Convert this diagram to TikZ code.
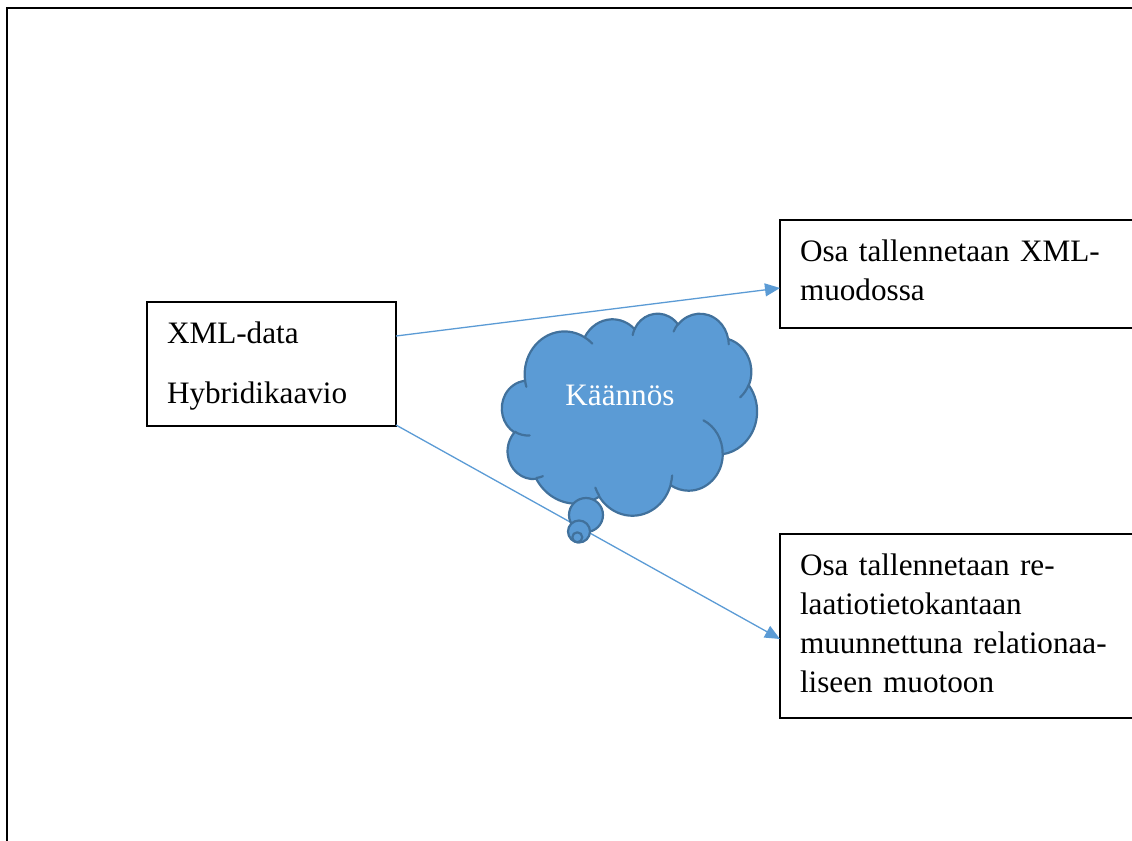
\documentclass[tikz,border=0pt]{standalone}
\usepackage{fontspec}
\setmainfont{Liberation Serif}
\usetikzlibrary{arrows.meta}
\definecolor{linkblue}{HTML}{5B9BD5}
\definecolor{cloudbody}{HTML}{5B9BD5}
\definecolor{cloudedge}{HTML}{41719C}
% elliptic arc from the current point, angles given as visual angles
\newcommand\cloudarc[4]{arc[x radius=#1, y radius=#2, start angle={vp(#3,#1,#2)}, end angle={vp(#3+#4,#1,#2)}]}
\begin{document}
\begin{tikzpicture}[x=0.5pt, y=-0.5pt,
  declare function={vp(\ang,\rx,\ry)=\ang+(atan2(\rx*sin(\ang),\ry*cos(\ang))-\ang)-360*round((atan2(\rx*sin(\ang),\ry*cos(\ang))-\ang)/360);},
  textbox/.style={draw=black, line width=0.7pt, rectangle, anchor=north west,
    outer sep=0pt, inner xsep=10pt, inner ysep=0pt, align=left,
    font=\fontsize{15.6}{19.5}\selectfont},
  conn/.style={draw=linkblue, line width=0.65pt, -{Triangle[length=7.5pt,width=6.5pt]}},
  cloudshape/.style={fill=cloudbody, draw=cloudedge, line width=1.1pt, line join=round},
  cloudcrease/.style={draw=cloudedge, line width=1.1pt, line cap=round},
  frame/.style={draw=black, line width=1pt}]
\useasboundingbox (0,0) rectangle (1132,841);

% page frame
\draw[frame] (1140,7.5) -- (7,7.5) -- (7,850);

% boxes
\node[textbox, text width=104.5pt, minimum height=62pt] (L) at (147,302)
  {\rule{0pt}{20.5pt}XML-data\\[10.5pt]Hybridikaavio\rule[-11.5pt]{0pt}{11.5pt}};
\node[textbox, text width=170pt, minimum height=54pt] (R1) at (780,220)
  {\rule{0pt}{20.5pt}Osa tallennetaan XML-\\muodossa\rule[-14pt]{0pt}{14pt}};
\node[textbox, text width=170pt, minimum height=92pt] (R2) at (780,534)
  {\rule{0pt}{20.5pt}Osa tallennetaan re-\\laatiotietokantaan\\muunnettuna relationaa-\\liseen muotoon\rule[-13pt]{0pt}{13pt}};

% connectors
\draw[conn] ([yshift=14pt]L.east) -- ([yshift=-7pt]R1.west);
\draw[conn] ([yshift=-30.5pt]L.east) -- ([yshift=-6.5pt]R2.west);

% thought cloud
\begin{scope}[shift={(502,313)}, x=0.29514pt, y=-0.2338pt]
  \draw[cloudshape] (39.00,143.70)
    \cloudarc{67.53}{91.90}{-190.48748}{123.78053}
    \cloudarc{53.33}{72.67}{-144.10238}{89.94523}
    \cloudarc{43.65}{59.45}{-145.80792}{99.72302}
    \cloudarc{48.57}{65.95}{-130.98607}{117.24173}
    \cloudarc{53.33}{72.73}{-78.70888}{109.02692}
    \cloudarc{67.75}{92.20}{-46.26725}{130.269}
    \cloudarc{57.85}{78.67}{0.62502}{114.03333}
    \cloudarc{67.52}{92.15}{22.4516}{115.17255}
    \cloudarc{77.20}{105.43}{66.24263}{75.71102}
    \cloudarc{43.60}{59.18}{-274.94208}{146.73557}
    \cloudarc{43.45}{59.45}{-246.8285}{152.51885}
    -- cycle;
  \draw[cloudcrease]
    (46.93,261.77) \cloudarc{43.45}{59.45}{86.742}{26.4295}
    (69.28,348.99) \cloudarc{43.60}{59.18}{73.61047}{11.44747}
    (164.78,390.90) \cloudarc{67.52}{92.15}{137.62415}{14.0811}
    (288.27,347.51) \cloudarc{67.52}{92.15}{6.45327}{15.99835}
    (341.29,229.54) \cloudarc{57.85}{78.67}{-70.29235}{70.91737}
    (417.98,153.54) \cloudarc{53.33}{72.73}{30.31803}{27.7515}
    (383.24,54.26) \cloudarc{48.57}{65.95}{-13.74433}{14.8589}
    (290.78,39.52) \cloudarc{48.57}{65.95}{-149.18145}{18.19537}
    (221.41,47.20) \cloudarc{43.65}{59.45}{-163.49427}{17.68635}
    (140.00,51.92) \cloudarc{67.53}{91.90}{-66.70695}{12.31935}
    (41.27,157.89) \cloudarc{67.53}{91.90}{157.65435}{11.85817};
\end{scope}
\draw[cloudshape] (586,515) circle[radius=17];
\draw[cloudshape] (579,531.5) circle[radius=11];
\draw[cloudshape] (577.3,537.3) circle[radius=5];
\node[anchor=base, inner sep=0pt, text=white, font=\fontsize{15.6}{19.5}\selectfont] (K) at (620,405) {Käännös};
\end{tikzpicture}
\end{document}
